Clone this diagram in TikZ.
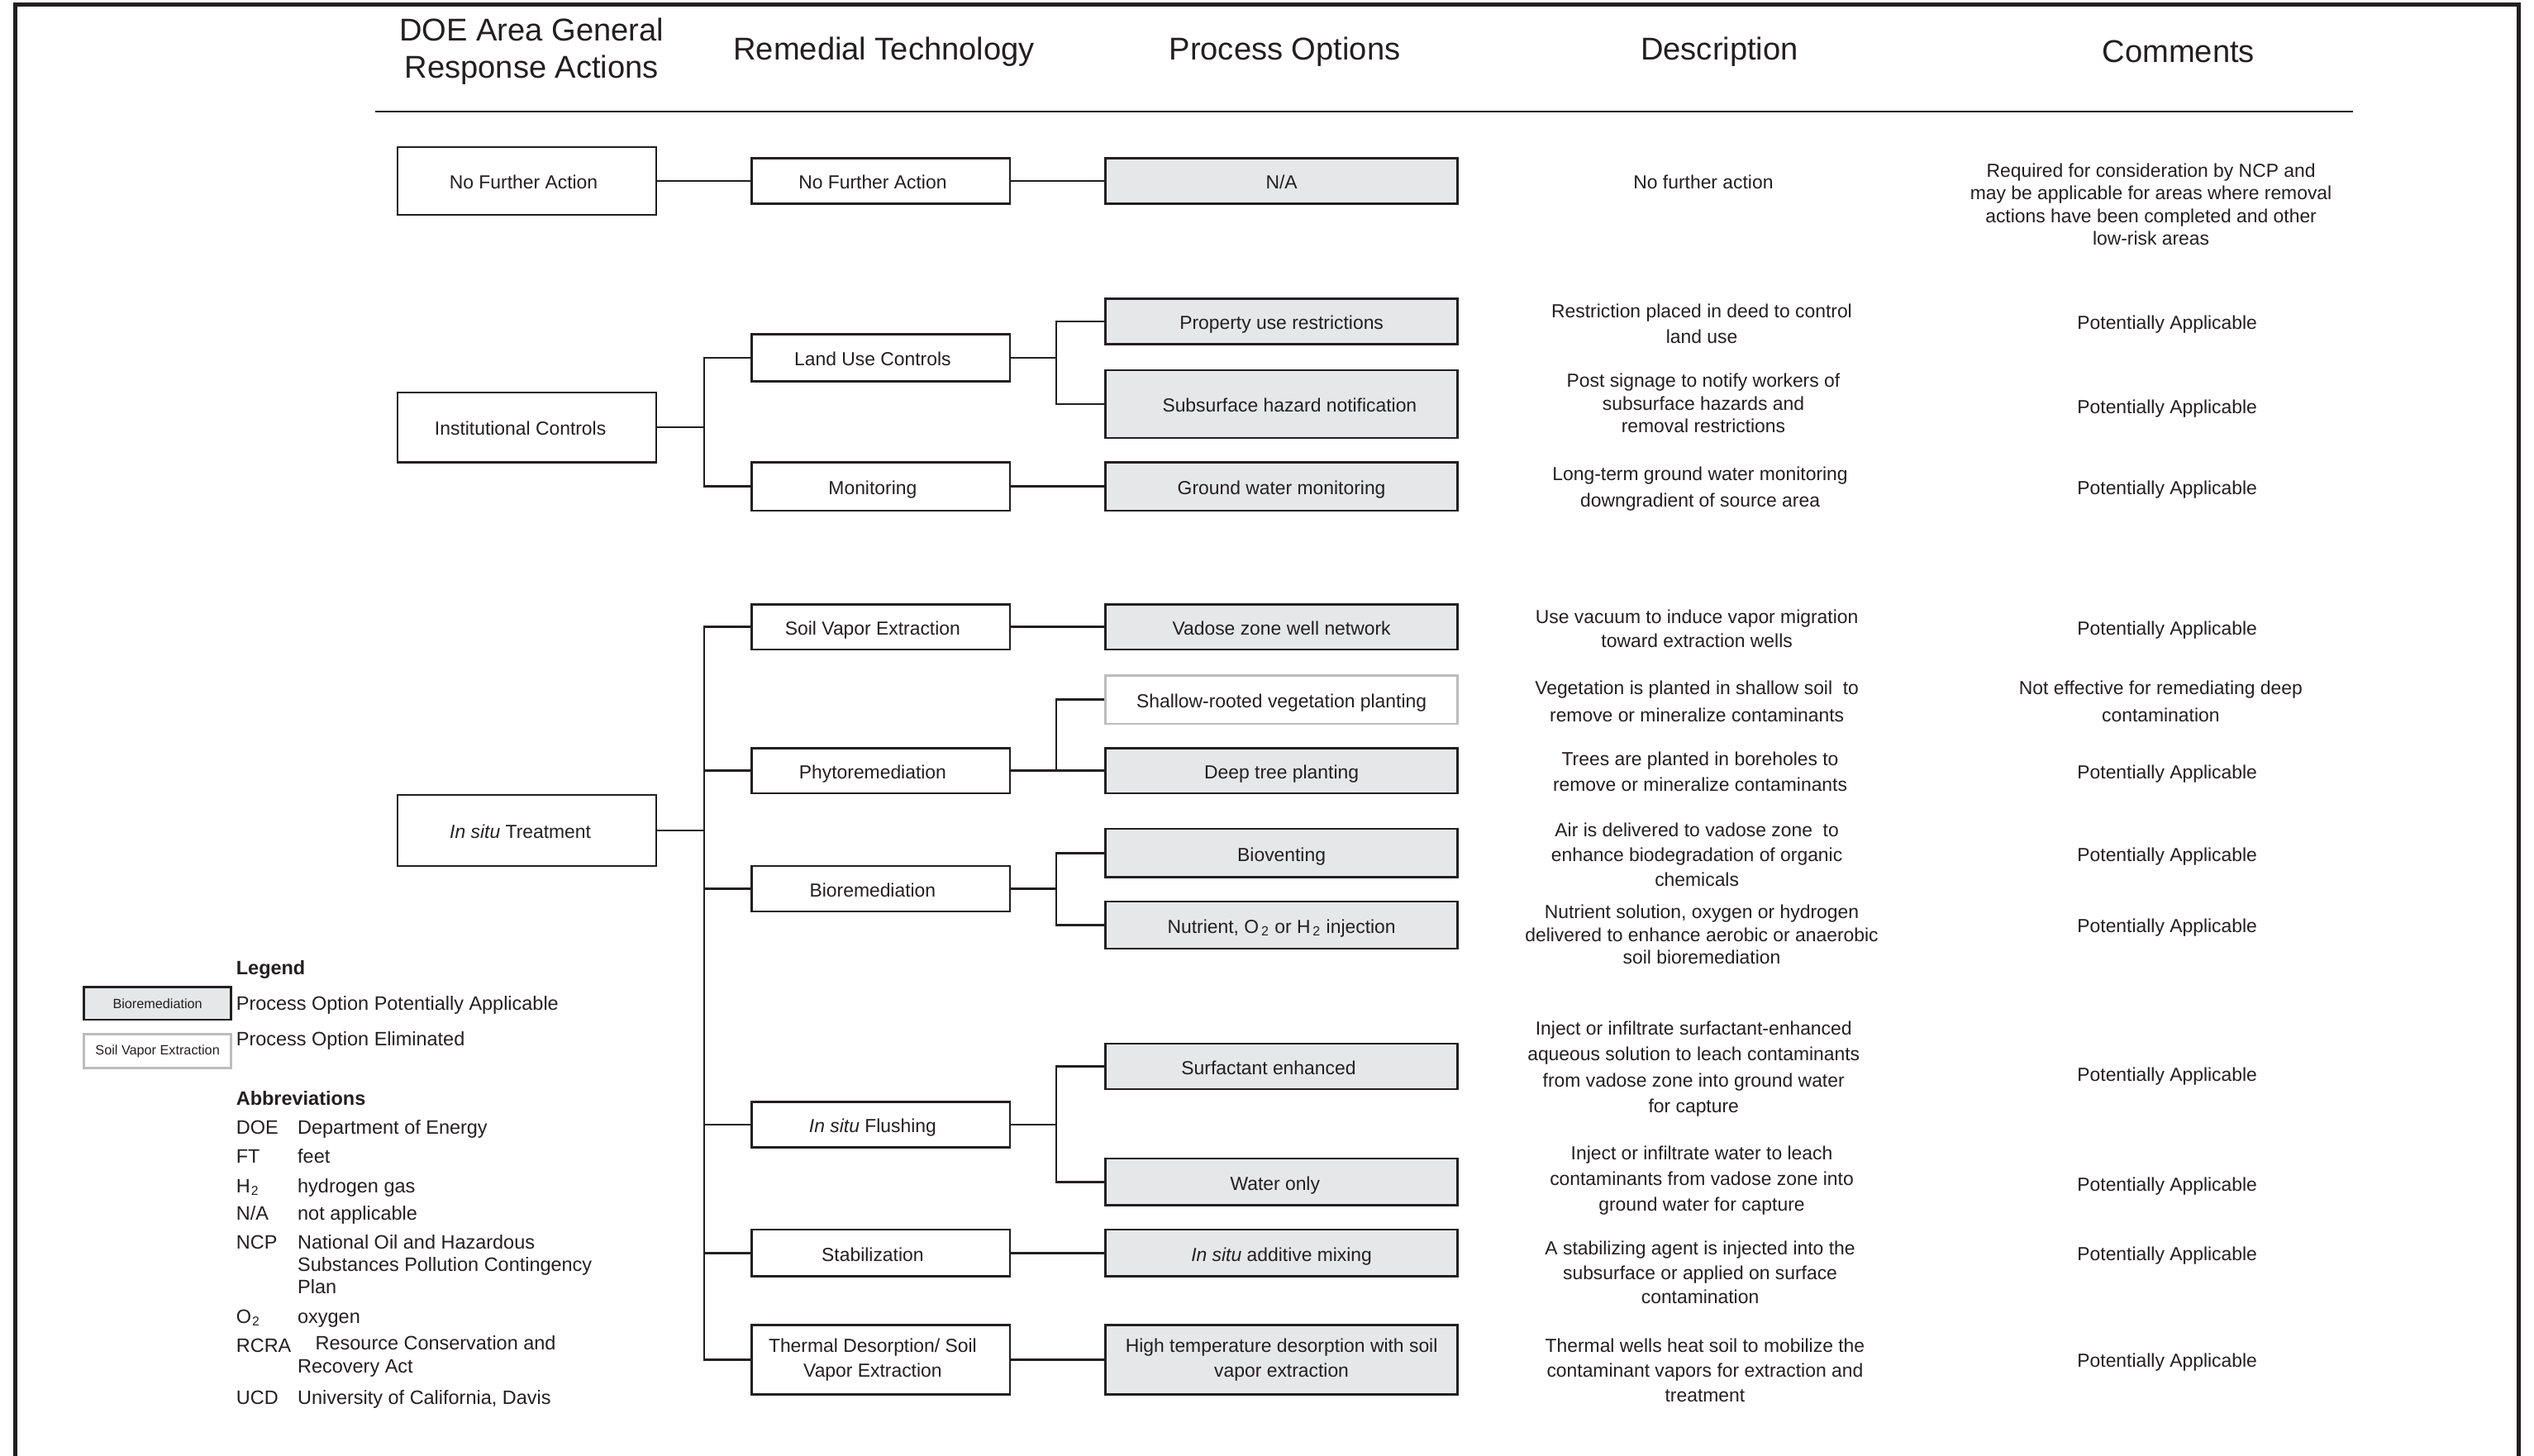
\documentclass[tikz,border=0pt]{standalone}
\usepackage{fontspec}
\setmainfont{Liberation Sans}
\definecolor{ink}{HTML}{231F20}
\definecolor{optfill}{HTML}{E6E7E8}
\definecolor{dropped}{HTML}{BDBDBD}
\newcommand{\bodyfont}{\fontsize{11.7}{15.5}\selectfont}
\newcommand{\nudgeleft}{\hspace*{-10pt}}
\begin{document}
\begin{tikzpicture}[x=1pt,y=-1pt,
  every node/.style={text=ink, inner sep=0pt},
  conn/.style={draw=ink, line width=1.3pt},
  oneline/.style={text height=11, text depth=1},
  cell/.style={draw=ink, line width=1.3pt, align=center, font=\bodyfont},
  resp/.style={cell, minimum width=160, minimum height=#1},
  tech/.style={cell, minimum width=160, minimum height=#1},
  popt/.style={cell, fill=optfill, minimum width=218, minimum height=#1},
  poptx/.style={popt=#1, fill=white, draw=dropped},
  hdr/.style={font=\fontsize{19.5}{23}\selectfont, align=center},
  desc/.style={align=center, font=\fontsize{11.7}{#1}\selectfont},
  desc/.default=15.5,
  lgbox/.style={line width=1.3pt, minimum width=91, minimum height=20, font=\fontsize{8.3}{10}\selectfont},
  lg/.style={anchor=west, font=\fontsize{12}{14}\selectfont, oneline},
  lgm/.style={anchor=west, align=left, font=\fontsize{12}{14}\selectfont},
  lgb/.style={anchor=west, font=\bfseries\fontsize{12}{14}\selectfont, oneline}
]
\useasboundingbox (0,0) rectangle (1568,901);

% page frame, open at the bottom
\draw[ink, line width=2.6pt] (9.5,901) -- (9.5,3) -- (1558.5,3) -- (1558.5,901);

% column headings
\node[hdr] (h1) at (329,32) {DOE Area General\\Response Actions};
\node[hdr] (h2) at (547,32) {Remedial Technology};
\node[hdr] (h3) at (795,32) {Process Options};
\node[hdr] (h4) at (1064,32) {Description};
\node[hdr] (h5) at (1348,32) {Comments};
\draw[ink, line width=1.3pt] (232,69) -- (1456,69);

% general response actions
\node[resp=42, oneline] (gNFA) at (326,112) {\hspace*{-4pt}No Further Action};
\node[resp=43, oneline] (gIC) at (326,264.5) {\hspace*{-8pt}Institutional Controls};
\node[resp=44, oneline] (gIST) at (326,514) {\hspace*{-8pt}\textit{In situ} Treatment};

% remedial technologies
\node[tech=28, oneline] (tNFA) at (545,112) {\nudgeleft No Further Action};
\node[tech=29, oneline] (tLUC) at (545,221.5) {\nudgeleft Land Use Controls};
\node[tech=30, oneline] (tMon) at (545,301) {\nudgeleft Monitoring};
\node[tech=28, oneline] (tSVE) at (545,388) {\nudgeleft Soil Vapor Extraction};
\node[tech=28, oneline] (tPhy) at (545,477) {\nudgeleft Phytoremediation};
\node[tech=28, oneline] (tBio) at (545,550) {\nudgeleft Bioremediation};
\node[tech=28, oneline] (tFlu) at (545,696) {\nudgeleft\textit{In situ} Flushing};
\node[tech=29, oneline] (tSta) at (545,775.5) {\nudgeleft Stabilization};
\node[tech=43] (tThe) at (545,841.5) {\nudgeleft Thermal Desorption/ Soil\\\nudgeleft Vapor Extraction};

% process options
\node[popt=28, oneline] (pNA) at (793,112) {N/A};
\node[popt=28, oneline] (pProp) at (793,199) {Property use restrictions};
\node[popt=42, oneline] (pSub) at (793,250) {\hspace*{10pt}Subsurface hazard notification};
\node[popt=30, oneline] (pGW) at (793,301) {Ground water monitoring};
\node[popt=28, oneline] (pVad) at (793,388) {Vadose zone well network};
\node[poptx=30, oneline] (pSha) at (793,433) {Shallow-rooted vegetation planting};
\node[popt=28, oneline] (pDeep) at (793,477) {Deep tree planting};
\node[popt=30, oneline] (pBiov) at (793,528) {Bioventing};
\node[popt=29, oneline] (pNut) at (793,572.5) {Nutrient, O\kern1.5pt\textsubscript{2} or H\kern1.5pt\textsubscript{2} injection};
\node[popt=28, oneline] (pSurf) at (793,660) {Surfactant enhanced\hspace*{16pt}};
\node[popt=29, oneline] (pWat) at (793,731.5) {Water only\hspace*{8pt}};
\node[popt=29, oneline] (pAdd) at (793,775.5) {\textit{In situ} additive mixing};
\node[popt=43] (pHT) at (793,841.5) {High temperature desorption with soil\\vapor extraction};

% trunk junctions
\path (gIC.east) ++(29,0) coordinate (jIC);
\path (gIST.east) ++(29,0) coordinate (jIST);
\path (tLUC.east) ++(28,0) coordinate (jLUC);
\path (tPhy.east) ++(28,0) coordinate (jPhy);
\path (tBio.east) ++(28,0) coordinate (jBio);
\path (tFlu.east) ++(28,0) coordinate (jFlu);

% response action -> technology
\draw[conn] (gNFA.east) -- (tNFA.west);
\draw[conn] (gIC.east) -- (jIC) (tLUC.west) -| (jIC) |- (tMon.west);
\draw[conn] (gIST.east) -- (jIST) (tSVE.west) -| (jIST) |- (tThe.west);
\draw[conn] (jIST |- tPhy.west) -- (tPhy.west);
\draw[conn] (jIST |- tBio.west) -- (tBio.west);
\draw[conn] (jIST |- tFlu.west) -- (tFlu.west);
\draw[conn] (jIST |- tSta.west) -- (tSta.west);

% technology -> process option
\draw[conn] (tNFA.east) -- (pNA.west);
\draw[conn] (tLUC.east) -- (jLUC) (pProp.west) -| (jLUC) |- (pSub.west);
\draw[conn] (tMon.east) -- (pGW.west);
\draw[conn] (tSVE.east) -- (pVad.west);
\draw[conn] (tPhy.east) -- (pDeep.west) (pSha.west) -| (jPhy);
\draw[conn] (tBio.east) -- (jBio) (pBiov.west) -| (jBio) |- (pNut.west);
\draw[conn] (tFlu.east) -- (jFlu) (pSurf.west) -| (jFlu) |- (pWat.west);
\draw[conn] (tSta.east) -- (pAdd.west);
\draw[conn] (tThe.east) -- (pHT.west);

% descriptions
\node[desc, oneline] (d1) at (1054,112) {No further action};
\node[desc=16] (d2) at (1053,200.5) {Restriction placed in deed to control\\land use};
\node[desc=14] (d3) at (1054,249.5) {Post signage to notify workers of\\subsurface hazards and\\removal restrictions};
\node[desc=16] (d4) at (1052,302.5) {Long-term ground water monitoring\\downgradient of source area};
\node[desc=15] (d5) at (1050,389) {Use vacuum to induce vapor migration\\toward extraction wells};
\node[desc=17] (d6) at (1050,434) {Vegetation is planted in shallow soil\ \ to\\remove or mineralize contaminants};
\node[desc=16] (d7) at (1052,477.5) {Trees are planted in boreholes to\\remove or mineralize contaminants};
\node[desc=15.5] (d8) at (1050,529) {Air is delivered to vadose zone\ \ to\\enhance biodegradation of organic\\chemicals};
\node[desc=14] (d9) at (1053,578.5) {Nutrient solution, oxygen or hydrogen\\delivered to enhance aerobic or anaerobic\\soil bioremediation};
\node[desc=16] (d10) at (1048,661.5) {Inject or infiltrate surfactant-enhanced\\aqueous solution to leach contaminants\\from vadose zone into ground water\\for capture};
\node[desc=16] (d11) at (1053,730.5) {Inject or infiltrate water to leach\\contaminants from vadose zone into\\ground water for capture};
\node[desc=15] (d12) at (1052,787.5) {A stabilizing agent is injected into the\\subsurface or applied on surface\\contamination};
\node[desc=15.5] (d13) at (1055,848) {Thermal wells heat soil to mobilize the\\contaminant vapors for extraction and\\treatment};

% comments
\node[desc=14] (c1) at (1331,126.5) {Required for consideration by NCP and\\may be applicable for areas where removal\\actions have been completed and other\\low-risk areas};
\node[desc, oneline] (c2) at (1341,199) {Potentially Applicable};
\node[desc, oneline] (c3) at (1341,251) {Potentially Applicable};
\node[desc, oneline] (c4) at (1341,301) {Potentially Applicable};
\node[desc, oneline] (c5) at (1341,388) {Potentially Applicable};
\node[desc=17] (c6) at (1337,434) {Not effective for remediating deep\\contamination};
\node[desc, oneline] (c7) at (1341,477) {Potentially Applicable};
\node[desc, oneline] (c8) at (1341,528) {Potentially Applicable};
\node[desc, oneline] (c9) at (1341,572) {Potentially Applicable};
\node[desc, oneline] (c10) at (1341,664) {Potentially Applicable};
\node[desc, oneline] (c11) at (1341,732) {Potentially Applicable};
\node[desc, oneline] (c12) at (1341,775) {Potentially Applicable};
\node[desc, oneline] (c13) at (1341,841) {Potentially Applicable};

% legend
\node[lgb] (lgHead) at (146,598) {Legend};
\node[lgbox, draw=ink, fill=optfill] (lgKeep) at (97.5,621) {Bioremediation};
\node[lg] (lgKeepT) at (146,620) {Process Option Potentially Applicable};
\node[lgbox, draw=dropped, fill=white, minimum height=21] (lgDrop) at (97.5,650.5) {Soil Vapor Extraction};
\node[lg] (lgDropT) at (146,642) {Process Option Eliminated};

% abbreviations
\node[lgb] (abHead) at (146,679) {Abbreviations};
\node[lg] (a1) at (146,697) {DOE};  \node[lg] (b1) at (184,697) {Department of Energy};
\node[lg] (a2) at (146,715) {FT};   \node[lg] (b2) at (184,715) {feet};
\node[lg] (a3) at (146,733) {H\kern0.5pt\textsubscript{2}}; \node[lg] (b3) at (184,733) {hydrogen gas};
\node[lg] (a4) at (146,750) {N/A};  \node[lg] (b4) at (184,750) {not applicable};
\node[lg] (a5) at (146,768) {NCP};
\node[lgm] (b5) at (184,782.5) {National Oil and Hazardous\\Substances Pollution Contingency\\Plan};
\node[lg] (a6) at (146,814) {O\kern0.5pt\textsubscript{2}}; \node[lg] (b6) at (184,814) {oxygen};
\node[lg] (a7) at (146,832) {RCRA};
\node[lgm] (b7) at (184,839.5) {\hspace*{11pt}Resource Conservation and\\Recovery Act};
\node[lg] (a8) at (146,864) {UCD};  \node[lg] (b8) at (184,864) {University of California, Davis};
\end{tikzpicture}
\end{document}
